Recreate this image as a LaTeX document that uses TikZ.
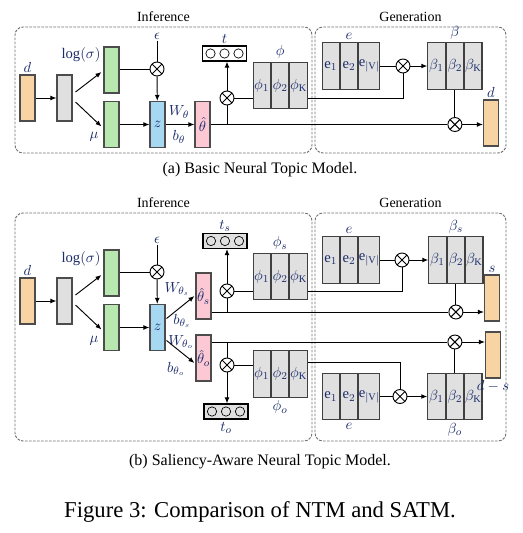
\documentclass[tikz,border=0pt]{standalone}
\usepackage{fontspec}
\setmainfont{Liberation Serif}
\usepackage{amsmath}
\usetikzlibrary{arrows.meta,positioning,calc}
\definecolor{docOrange}{HTML}{F8D3A3}
\definecolor{hidGray}{HTML}{E0E0E0}
\definecolor{encGreen}{HTML}{B8E8B0}
\definecolor{latBlue}{HTML}{A6D8F2}
\definecolor{thPink}{HTML}{FCC8D4}
\definecolor{lblNavy}{HTML}{1B2C6B}
\definecolor{stageGray}{HTML}{707070}

\begin{document}
\begin{tikzpicture}[
  x=0.75pt, y=-0.75pt,
  font=\fontsize{10.5}{12}\selectfont,
  vec/.style={draw=black!70, fill=#1, line width=0.8pt, minimum width=11.25pt,
    minimum height=34.5pt, inner sep=0pt, text=lblNavy, font=\fontsize{11}{12}\selectfont},
  cell/.style={draw=black!75, fill=hidGray, line width=0.8pt, minimum width=13pt,
    minimum height=35pt, inner sep=0pt, text=lblNavy, font=\fontsize{11}{12}\selectfont},
  otimes/.style={draw, circle, minimum size=10.5pt, inner sep=0pt, line width=0.7pt,
    path picture={\draw[line width=0.7pt]
      (path picture bounding box.north west) -- (path picture bounding box.south east)
      (path picture bounding box.north east) -- (path picture bounding box.south west);}},
  topics/.style={draw, line width=0.8pt, fill=#1, minimum width=33pt,
    minimum height=11.25pt, inner sep=0pt,
    path picture={\foreach \k in {-1,0,1}
      \draw[fill=#1, line width=0.5pt] ([xshift=\k*10.5pt]path picture bounding box.center) circle (3.5pt);}},
  stage/.style={draw=stageGray, dash pattern=on 2pt off 1pt, rounded corners=6pt,
    line width=0.7pt, inner sep=0pt},
  lbl/.style={text=lblNavy, inner sep=1pt, font=\fontsize{11}{12}\selectfont},
  arr/.style={-{Latex[length=4.5pt,width=3.6pt]}, line width=0.7pt},
  ln/.style={line width=0.7pt}
]
\fill[white] (0,0) rectangle (523,533);
\useasboundingbox (0,0) rectangle (523,533);

% (a) basic NTM
\node[stage, minimum width=222.75pt, minimum height=94.5pt] (infA) at (163.5,90) {};
\node[stage, minimum width=143.25pt, minimum height=94.5pt] (genA) at (410.5,90) {};
\node[anchor=south] (infAt) at (infA.north) {Inference};
\node[anchor=south] (genAt) at (genA.north) {Generation};

\node[vec=docOrange, label={[lbl]above:$d$}] (dA) at (27.5,98) {};
\node[vec=hidGray] (hA) at (64.5,98) {};
\node[vec=encGreen] (gsA) at (111.5,70) {};
\node[vec=encGreen] (gmA) at (111.5,124.5) {};
\node[lbl] (logsA) at (81,55) {$\log(\sigma)$};
\node[lbl] (muA) at (94,137) {$\mu$};
\node[lbl] (epsA) at (157,36) {$\epsilon$};
\node[otimes] (xeA) at (157,69) {};
\node[vec=latBlue] (zA) at (157.5,124.5) {$z$};
\node[vec=thPink] (thA) at (202.5,124.5) {$\hat{\theta}$};
\node[lbl] (wA) at (179,112) {$W_\theta$};
\node[lbl] (bAw) at (179,137) {$b_\theta$};
\node[topics=white] (tA) at (224.5,53.5) {};
\node[lbl, above=0pt of tA] (tAl) {$t$};
\node[otimes] (mA) at (227,98) {};

\node[cell] (phiA1) at (261.7,85.5) {$\phi_1$};
\node[cell, right=0pt of phiA1] (phiA2) {$\phi_2$};
\node[cell, right=0pt of phiA2] (phiA3) {$\phi_{\mathrm{K}}$};
\node[lbl, above=1pt of phiA2] (phiAl) {$\phi$};

\node[cell] (eA1) at (330.7,66) {$\mathrm{e}_1$};
\node[cell, right=0pt of eA1] (eA2) {$\mathrm{e}_2$};
\node[cell, right=0pt of eA2] (eA3) {$\mathrm{e}_{|\mathrm{V}|}$};
\node[lbl, above=1pt of eA2] (eAl) {$e$};
\node[otimes] (xwA) at (403,66) {};
\node[cell] (bA1) at (436.5,66) {$\beta_1$};
\node[cell, right=0pt of bA1] (bA2) {$\beta_2$};
\node[cell, right=0pt of bA2] (bA3) {$\beta_{\mathrm{K}}$};
\node[lbl, above=1pt of bA2] (bAl) {$\beta$};
\node[otimes] (xdA) at (bA2 |- thA) {};
\node[vec=docOrange, label={[lbl]above:$d$}] (dA2) at (491,123) {};

\draw[arr] (dA) -- (hA);
\draw[arr] ($(hA.east)+(3,-6)$) -- ($(gsA.west)+(-2,2)$);
\draw[arr] ($(hA.east)+(3,4)$) -- ($(gmA.west)+(-2,2)$);
\draw[ln] (epsA) -- (xeA);
\draw[ln] (gsA.east |- xeA) -- (xeA);
\draw[arr] (xeA) -- (zA);
\draw[arr] (gmA) -- (zA);
\draw[arr] (zA) -- (thA);
\draw[ln] (thA.east) -- (xdA);
\draw[ln] (mA) -- (mA |- thA.east);
\draw[arr] (mA) -- (mA |- tA.south);
\draw[ln] (mA) -- (mA -| phiA1.west);
\draw[ln] (phiA3.east |- mA) -| (xwA);
\draw[ln] (eA3) -- (xwA);
\draw[arr] (xwA) -- (bA1);
\draw[ln] (bA2) -- (xdA);
\draw[arr] (xdA) -- (xdA -| dA2.west);

\node[font=\fontsize{12}{14}\selectfont] (capA) at (260,170) {(a) Basic Neural Topic Model.};

% (b) saliency-aware NTM
\node[stage, minimum width=222.75pt, minimum height=171pt] (infB) at (163.5,327) {};
\node[stage, minimum width=143.25pt, minimum height=171pt] (genB) at (410.5,327) {};
\node[anchor=south] (infBt) at (infB.north) {Inference};
\node[anchor=south] (genBt) at (genB.north) {Generation};

\node[vec=docOrange, label={[lbl]above:$d$}] (dB) at (27.5,301) {};
\node[vec=hidGray] (hB) at (64.5,301) {};
\node[vec=encGreen] (gsB) at (111.5,273) {};
\node[vec=encGreen] (gmB) at (111.5,327.5) {};
\node[lbl] (logsB) at (81,259) {$\log(\sigma)$};
\node[lbl] (muB) at (94,341) {$\mu$};
\node[lbl] (epsB) at (157,240) {$\epsilon$};
\node[otimes] (xeB) at (157,272) {};
\node[vec=latBlue] (zB) at (157.5,327.5) {$z$};
\node[vec=thPink] (thS) at (203.5,296) {$\hat{\theta}_s$};
\node[vec=thPink] (thO) at (203.5,358) {$\hat{\theta}_o$};
\node[lbl] (wS) at (177,289) {$W_{\theta_s}$};
\node[lbl] (bSw) at (182,321) {$b_{\theta_s}$};
\node[lbl] (wO) at (181,342) {$W_{\theta_o}$};
\node[lbl] (bOw) at (176,369) {$b_{\theta_o}$};

\node[topics=hidGray] (tS) at (225,241) {};
\node[lbl, above=0pt of tS] (tSl) {$t_s$};
\node[otimes] (mS) at (227,291) {};
\node[cell] (phiS1) at (261.7,276.5) {$\phi_1$};
\node[cell, right=0pt of phiS1] (phiS2) {$\phi_2$};
\node[cell, right=0pt of phiS2] (phiS3) {$\phi_{\mathrm{K}}$};
\node[lbl, above=1pt of phiS2] (phiSl) {$\phi_s$};

\node[otimes] (mO) at (227,365) {};
\node[topics=hidGray] (tO) at (226,411.5) {};
\node[lbl, below=1pt of tO] (tOl) {$t_o$};
\node[cell] (phiO1) at (261.7,374) {$\phi_1$};
\node[cell, right=0pt of phiO1] (phiO2) {$\phi_2$};
\node[cell, right=0pt of phiO2] (phiO3) {$\phi_{\mathrm{K}}$};
\node[lbl, below=1pt of phiO2] (phiOl) {$\phi_o$};

\node[cell] (eS1) at (330.7,260) {$\mathrm{e}_1$};
\node[cell, right=0pt of eS1] (eS2) {$\mathrm{e}_2$};
\node[cell, right=0pt of eS2] (eS3) {$\mathrm{e}_{|\mathrm{V}|}$};
\node[lbl, above=1pt of eS2] (eSl) {$e$};
\node[otimes] (xwS) at (402,260) {};
\node[cell] (bS1) at (437.5,260) {$\beta_1$};
\node[cell, right=0pt of bS1] (bS2) {$\beta_2$};
\node[cell, right=0pt of bS2] (bS3) {$\beta_{\mathrm{K}}$};
\node[lbl, above=1pt of bS2] (bSl) {$\beta_s$};
\node[otimes] (xdS) at (bS2 |- 0,312) {};
\node[vec=docOrange, label={[lbl]above:$s$}] (sB) at (492,298) {};

\node[cell] (eO1) at (330.7,396.5) {$\mathrm{e}_1$};
\node[cell, right=0pt of eO1] (eO2) {$\mathrm{e}_2$};
\node[cell, right=0pt of eO2] (eO3) {$\mathrm{e}_{|\mathrm{V}|}$};
\node[lbl, below=1pt of eO2] (eOl) {$e$};
\node[otimes] (xwO) at (400,396.5) {};
\node[cell] (bO1) at (436.5,396.5) {$\beta_1$};
\node[cell, right=0pt of bO1] (bO2) {$\beta_2$};
\node[cell, right=0pt of bO2] (bO3) {$\beta_{\mathrm{K}}$};
\node[lbl, below=1pt of bO2] (bOl) {$\beta_o$};
\node[otimes] (xdO) at (bO2 |- 0,342) {};
\node[vec=docOrange, label={[lbl]below:$d-s$}] (dsB) at (493,355) {};

\draw[arr] (dB) -- (hB);
\draw[arr] ($(hB.east)+(3,-6)$) -- ($(gsB.west)+(-2,2)$);
\draw[arr] ($(hB.east)+(3,4)$) -- ($(gmB.west)+(-2,2)$);
\draw[ln] (epsB) -- (xeB);
\draw[ln] (gsB.east |- xeB) -- (xeB);
\draw[arr] (xeB) -- (zB);
\draw[arr] (gmB) -- (zB);
\draw[arr] ($(zB.east)+(1,-9)$) -- ($(thS.west)+(-1,0)$);
\draw[arr] ($(zB.east)+(1,13)$) -- ($(thO.west)+(-1,5)$);

\draw[ln] (thS.east |- xdS) -- (xdS);
\draw[ln] (mS) -- (mS |- xdS);
\draw[arr] (mS) -- (mS |- tS.south);
\draw[ln] (mS) -- (mS -| phiS1.west);
\draw[ln] (phiS3.east |- mS) -| (xwS);
\draw[ln] (eS3) -- (xwS);
\draw[arr] (xwS) -- (bS1);
\draw[ln] (bS2) -- (xdS);
\draw[arr] (xdS) -- (xdS -| sB.west);

\draw[ln] (thO.east |- xdO) -- (xdO);
\draw[ln] (mO |- xdO) -- (mO);
\draw[arr] (mO) -- (mO |- tO.north);
\draw[ln] (mO) -- (mO -| phiO1.west);
\draw[ln] ($(phiO3.east)+(0,-12)$) -| (xwO);
\draw[ln] (eO3) -- (xwO);
\draw[arr] (xwO) -- (bO1);
\draw[ln] (bO2) -- (xdO);
\draw[arr] (xdO) -- (xdO -| dsB.west);

\node[font=\fontsize{12}{14}\selectfont] (capB) at (260,462) {(b) Saliency-Aware Neural Topic Model.};
\node[font=\fontsize{17}{20}\selectfont] (capFig) at (260,512) {Figure 3: Comparison of NTM and SATM.};
\end{tikzpicture}
\end{document}
